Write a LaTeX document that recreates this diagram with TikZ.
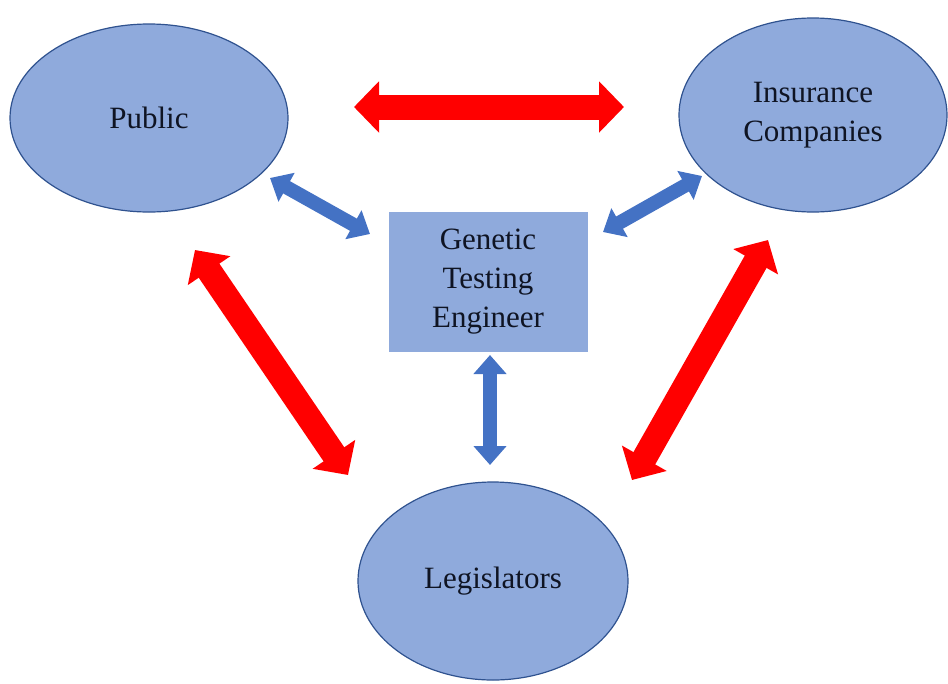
\documentclass[tikz,border=0pt]{standalone}
\usepackage{fontspec}
\setmainfont{Liberation Serif}
\usetikzlibrary{arrows.meta,shapes.geometric}

\definecolor{partyfill}{RGB}{143,170,220}
\definecolor{partyedge}{RGB}{47,82,143}
\definecolor{linkblue}{RGB}{68,114,196}
\definecolor{linkred}{RGB}{255,0,0}
\definecolor{labelink}{RGB}{15,20,35}

\begin{document}
\begin{tikzpicture}[x=1pt, y=-1pt,
  party/.style={ellipse, draw=partyedge, line width=1.2pt, fill=partyfill,
                inner sep=0pt, align=center, text=labelink,
                font=\fontsize{31}{39}\selectfont},
  hub/.style={rectangle, fill=partyfill, minimum width=199pt, minimum height=140pt,
              inner sep=0pt, align=center, text=labelink,
              font=\fontsize{31}{39}\selectfont},
  redlink/.style={linkred, line width=25pt,
                  {Triangle[length=25pt,width=50pt]}-{Triangle[length=25pt,width=50pt]}},
  bluelink/.style={linkblue, line width=14pt,
                   {Triangle[length=19pt,width=32pt]}-{Triangle[length=19pt,width=32pt]}}
]
  \useasboundingbox (0,0) rectangle (948,683);
  \node[party, minimum width=278pt, minimum height=188pt] (pub) at (149,118) {Public};
  \node[party, minimum width=268pt, minimum height=194pt] (ins) at (813,115) {Insurance\\Companies};
  \node[party, minimum width=270pt, minimum height=198pt] (leg) at (493,581) {Legislators};
  \node[hub] (gte) at (488,282) {Genetic\\Testing\\Engineer};
  % free ends of the block arrows
  \coordinate (pubR) at (354,107);
  \coordinate (insL) at (624,107);
  \coordinate (pubB) at (270,178);
  \coordinate (gteL) at (370,234);
  \coordinate (gteR) at (603,232);
  \coordinate (insB) at (702,176);
  \coordinate (gteB) at (490,355);
  \coordinate (legT) at (490,465);
  \coordinate (pubD) at (195,250);
  \coordinate (legL) at (348,475);
  \coordinate (insD) at (768,240);
  \coordinate (legR) at (632,480);
  \draw[redlink] (pubR) -- (insL);
  \draw[redlink] (pubD) -- (legL);
  \draw[redlink] (insD) -- (legR);
  \draw[bluelink] (pubB) -- (gteL);
  \draw[bluelink] (gteR) -- (insB);
  \draw[bluelink] (gteB) -- (legT);
\end{tikzpicture}
\end{document}
